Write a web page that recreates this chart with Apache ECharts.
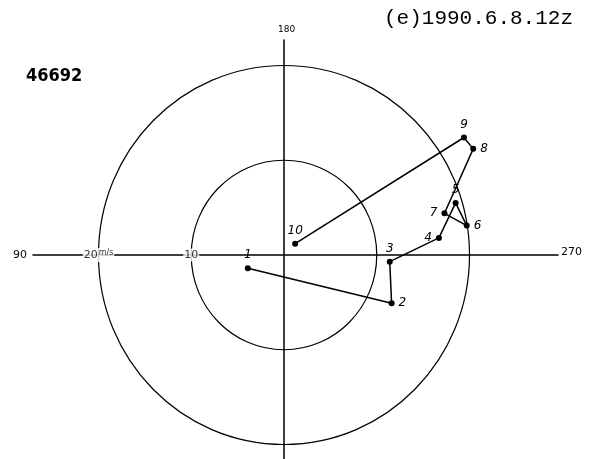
<!DOCTYPE html>
<html>
<head>
<meta charset="utf-8">
<script src="https://cdn.jsdelivr.net/npm/echarts@6/dist/echarts.min.js"></script>
<style>
  html, body { margin: 0; padding: 0; background: #fff; }
  #chart { width: 593px; height: 459px; }
</style>
</head>
<body>
<div id="chart"></div>
<script>
// hodograph, station 46692, 1990.6.8 12z  (wind components, m/s)
var stationId = "46692";
var titleText = "(e)1990.6.8.12z";
var pointNames = ["1", "2", "3", "4", "5", "6", "7", "8", "9", "10"];
var windX = [-3.9, 11.6, 11.4, 16.7, 18.5, 19.7, 17.3, 20.4, 19.4, 1.2];
var windY = [-1.4, -5.1, -0.7, 1.8, 5.5, 3.1, 4.4, 11.2, 12.4, 1.2];
var rings = [10, 20];
var ringLabels = ["10", "20"];
var dirLabels = { top: "180", left: "90", right: "270" };

// where each handwritten number sits next to its dot
var labelPlace = ["top", "right", "top", "left", "top", "right", "left", "right", "top", "top"];

var chart = echarts.init(document.getElementById("chart"));

var pathData = [];
for (var i = 0; i < windX.length; i++) {
  pathData.push({
    value: [windX[i], windY[i]],
    name: pointNames[i],
    label: { position: labelPlace[i] }
  });
}

var ringLabelData = [];
for (var k = 0; k < rings.length; k++) {
  ringLabelData.push({ value: [-rings[k], 0], name: ringLabels[k] });
}

var option = {
  backgroundColor: "#fff",
  animation: false,
  grid: { left: 33, right: 35, top: 40, bottom: 0 },
  xAxis: {
    type: "value",
    min: -27.06,
    max: 29.54,
    axisLine: { onZero: true, lineStyle: { color: "#000", width: 1.5 } },
    axisTick: { show: false },
    axisLabel: { show: false },
    splitLine: { show: false }
  },
  yAxis: {
    type: "value",
    min: -21.53,
    max: 22.69,
    axisLine: { onZero: true, lineStyle: { color: "#000", width: 1.5 } },
    axisTick: { show: false },
    axisLabel: { show: false },
    splitLine: { show: false }
  },
  graphic: [
    {
      type: "text", left: 26, top: 67,
      style: { text: stationId, fill: "#000", font: "bold 18px 'DejaVu Sans Condensed', 'Liberation Sans', sans-serif" }
    },
    {
      type: "text", left: 384, top: 8,
      style: { text: titleText, fill: "#000", font: "21px 'Liberation Mono', monospace" }
    },
    {
      type: "text", left: 278, top: 25,
      style: { text: dirLabels.top, fill: "#000", font: "9px 'DejaVu Sans', sans-serif" }
    },
    {
      type: "text", left: 13, top: 250,
      style: { text: dirLabels.left, fill: "#000", font: "11px 'DejaVu Sans', sans-serif" }
    },
    {
      type: "text", left: 561, top: 247,
      style: { text: dirLabels.right, fill: "#000", font: "11px 'DejaVu Sans', sans-serif" }
    }
  ],
  series: [
    {
      type: "custom",
      name: "rings",
      silent: true,
      data: rings,
      renderItem: function (params, api) {
        var r = api.value(0);
        var c = api.coord([0, 0]);
        var s = api.size([r, r]);
        return {
          type: "ellipse",
          shape: { cx: c[0], cy: c[1], rx: s[0], ry: s[1] },
          style: { fill: "none", stroke: "#000", lineWidth: 1.2 }
        };
      },
      z: 1
    },
    {
      type: "scatter",
      name: "ringText",
      silent: true,
      symbolSize: 0,
      data: ringLabelData,
      label: {
        show: true,
        position: "inside",
        formatter: function (p) {
          return p.name === "20" ? "20{u|m/s}" : p.name;
        },
        color: "#000",
        fontSize: 11,
        fontFamily: "DejaVu Sans",
        backgroundColor: "#fff",
        padding: [1, 1],
        rich: { u: { fontSize: 8, color: "#000", padding: [0, 0, 4, 1] } }
      },
      z: 3
    },
    {
      type: "line",
      name: "hodograph",
      data: pathData,
      symbol: "circle",
      symbolSize: 6,
      itemStyle: { color: "#000" },
      lineStyle: { color: "#000", width: 1.5 },
      label: {
        show: true,
        formatter: "{b}",
        color: "#000",
        fontSize: 12,
        fontStyle: "italic",
        fontFamily: "DejaVu Sans",
        distance: 4
      },
      z: 4
    }
  ]
};

chart.setOption(option);
</script>
</body>
</html>
